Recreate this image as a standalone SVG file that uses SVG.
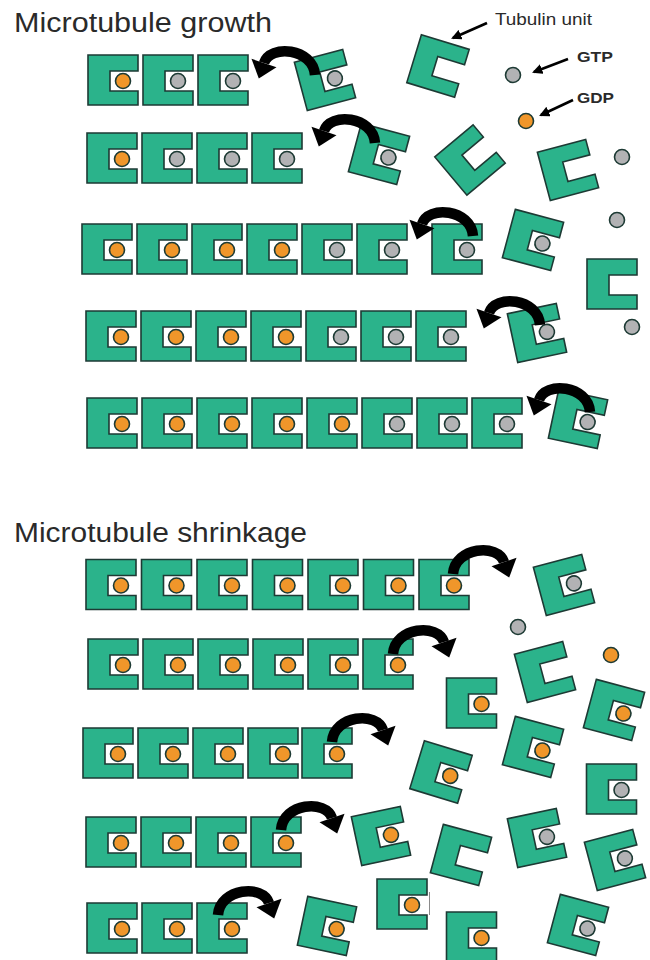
<svg xmlns="http://www.w3.org/2000/svg" xmlns:xlink="http://www.w3.org/1999/xlink" width="650" height="960" viewBox="0 0 650 960">
  <style>
    .unit { fill: #2bb38b; stroke: #1d3a34; stroke-width: 1.6; stroke-linejoin: miter; }
    .gtp { fill: #b2b2b4; stroke: #1d3a34; stroke-width: 1.6; }
    .gdp { fill: #f0962a; stroke: #1d3a34; stroke-width: 1.6; }
    .title { font-family: "Liberation Sans", Arial, sans-serif; font-size: 27px; fill: #2a2a2a; }
    .lbl { font-family: "Liberation Sans", Arial, sans-serif; fill: #2a2a2a; }
    .curl { fill: none; stroke: #000; stroke-width: 10.5; stroke-linecap: butt; }
    .ptr { stroke: #000; stroke-width: 2.6; fill: none; }
  </style>
  <defs>
    <!-- tubulin unit: C-shaped block, notch opening to the right, centred on origin -->
    <path id="c" class="unit" d="M -25 -25 H 25 V -9 H -3 V 11 H 25 V 25 H -25 Z"/>
    <g id="ug"><use xlink:href="#c"/><circle class="gtp" cx="10" cy="1" r="7.5"/></g>
    <g id="uo"><use xlink:href="#c"/><circle class="gdp" cx="10" cy="1" r="7.5"/></g>
    <!-- thick curled arrow, head pointing down-right -->
    <g id="curl">
      <path class="curl" d="M -31 12 C -29 -15 14 -19 20 0"/>
      <polygon points="32.5,-4.2 7.5,4.2 25.2,15.5" fill="#000"/>
    </g>
    <marker id="ah" viewBox="0 0 10 10" refX="8" refY="5" markerWidth="4" markerHeight="4" orient="auto" markerUnits="strokeWidth">
      <path d="M0 0 L10 5 L0 10 Z" fill="#000"/>
    </marker>
  </defs>

  <rect width="650" height="960" fill="#ffffff"/>

  <!-- titles and key labels -->
  <text class="title" x="14" y="32" textLength="258" lengthAdjust="spacingAndGlyphs">Microtubule growth</text>
  <text class="title" x="14" y="542" textLength="293" lengthAdjust="spacingAndGlyphs">Microtubule shrinkage</text>
  <text class="lbl" x="495" y="25" font-size="17" textLength="97" lengthAdjust="spacingAndGlyphs">Tubulin unit</text>
  <text class="lbl" x="577" y="62" font-size="15" font-weight="bold" textLength="36" lengthAdjust="spacingAndGlyphs">GTP</text>
  <text class="lbl" x="577" y="103" font-size="15" font-weight="bold" textLength="37" lengthAdjust="spacingAndGlyphs">GDP</text>

  <!-- ===== growth ===== -->
  <g id="growth-row1">
    <g id="g1a" transform="translate(113,80)"><use xlink:href="#uo"/></g>
    <g id="g1b" transform="translate(168,80)"><use xlink:href="#ug"/></g>
    <g id="g1c" transform="translate(223,80)"><use xlink:href="#ug"/></g>
  </g>
  <g id="growth-row2">
    <g id="g2a" transform="translate(112,158)"><use xlink:href="#uo"/></g>
    <g id="g2b" transform="translate(167,158)"><use xlink:href="#ug"/></g>
    <g id="g2c" transform="translate(222,158)"><use xlink:href="#ug"/></g>
    <g id="g2d" transform="translate(277,158)"><use xlink:href="#ug"/></g>
  </g>
  <g id="growth-row3">
    <g id="g3a" transform="translate(107,249)"><use xlink:href="#uo"/></g>
    <g id="g3b" transform="translate(162,249)"><use xlink:href="#uo"/></g>
    <g id="g3c" transform="translate(217,249)"><use xlink:href="#uo"/></g>
    <g id="g3d" transform="translate(272,249)"><use xlink:href="#uo"/></g>
    <g id="g3e" transform="translate(327,249)"><use xlink:href="#ug"/></g>
    <g id="g3f" transform="translate(382,249)"><use xlink:href="#ug"/></g>
    <g id="g3g" transform="translate(457,249)"><use xlink:href="#ug"/></g>
  </g>
  <g id="growth-row4">
    <g id="g4a" transform="translate(111,336)"><use xlink:href="#uo"/></g>
    <g id="g4b" transform="translate(166,336)"><use xlink:href="#uo"/></g>
    <g id="g4c" transform="translate(221,336)"><use xlink:href="#uo"/></g>
    <g id="g4d" transform="translate(276,336)"><use xlink:href="#uo"/></g>
    <g id="g4e" transform="translate(331,336)"><use xlink:href="#ug"/></g>
    <g id="g4f" transform="translate(386,336)"><use xlink:href="#ug"/></g>
    <g id="g4g" transform="translate(441,336)"><use xlink:href="#ug"/></g>
  </g>
  <g id="growth-row5">
    <g id="g5a" transform="translate(112,423)"><use xlink:href="#uo"/></g>
    <g id="g5b" transform="translate(167,423)"><use xlink:href="#uo"/></g>
    <g id="g5c" transform="translate(222,423)"><use xlink:href="#uo"/></g>
    <g id="g5d" transform="translate(277,423)"><use xlink:href="#uo"/></g>
    <g id="g5e" transform="translate(332,423)"><use xlink:href="#uo"/></g>
    <g id="g5f" transform="translate(387,423)"><use xlink:href="#ug"/></g>
    <g id="g5g" transform="translate(442,423)"><use xlink:href="#ug"/></g>
    <g id="g5h" transform="translate(497,423)"><use xlink:href="#ug"/></g>
  </g>

  <!-- free units and nucleotides (growth) -->
  <g id="free-growth">
    <g id="t1" transform="translate(325,80) rotate(-15)"><use xlink:href="#ug"/></g>
    <g id="t2" transform="translate(438,66) rotate(17)"><use xlink:href="#c"/></g>
    <g id="t3" transform="translate(379,154) rotate(15)"><use xlink:href="#ug"/></g>
    <g id="t4" transform="translate(470,160) rotate(-40)"><use xlink:href="#c"/></g>
    <g id="t5" transform="translate(568,170) rotate(-15)"><use xlink:href="#c"/></g>
    <g id="t6" transform="translate(533,240) rotate(15)"><use xlink:href="#ug"/></g>
    <g id="t7" transform="translate(537,333) rotate(-12)"><use xlink:href="#ug"/></g>
    <g id="t8" transform="translate(578,419) rotate(12)"><use xlink:href="#ug"/></g>
    <g id="t9" transform="translate(612,284)"><use xlink:href="#c"/></g>
    <circle id="n-gtp" class="gtp" cx="513" cy="75" r="7.5"/>
    <circle id="n-gdp" class="gdp" cx="526" cy="121" r="7.5"/>
    <circle id="n1" class="gtp" cx="622" cy="157" r="7.5"/>
    <circle id="n2" class="gtp" cx="617" cy="220" r="7.5"/>
    <circle id="n3" class="gtp" cx="632" cy="327" r="7.5"/>
  </g>

  <!-- ===== shrinkage ===== -->
  <g id="shrink-row1">
    <g id="s1a" transform="translate(111,584.5)"><use xlink:href="#uo"/></g>
    <g id="s1b" transform="translate(166.5,584.5)"><use xlink:href="#uo"/></g>
    <g id="s1c" transform="translate(222,584.5)"><use xlink:href="#uo"/></g>
    <g id="s1d" transform="translate(277.5,584.5)"><use xlink:href="#uo"/></g>
    <g id="s1e" transform="translate(333,584.5)"><use xlink:href="#uo"/></g>
    <g id="s1f" transform="translate(388.5,584.5)"><use xlink:href="#uo"/></g>
    <g id="s1g" transform="translate(444,584.5)"><use xlink:href="#uo"/></g>
  </g>
  <g id="shrink-row2">
    <g id="s2a" transform="translate(113,664)"><use xlink:href="#uo"/></g>
    <g id="s2b" transform="translate(168,664)"><use xlink:href="#uo"/></g>
    <g id="s2c" transform="translate(223,664)"><use xlink:href="#uo"/></g>
    <g id="s2d" transform="translate(278,664)"><use xlink:href="#uo"/></g>
    <g id="s2e" transform="translate(333,664)"><use xlink:href="#uo"/></g>
    <g id="s2f" transform="translate(388,664)"><use xlink:href="#uo"/></g>
  </g>
  <g id="shrink-row3">
    <g id="s3a" transform="translate(108,753)"><use xlink:href="#uo"/></g>
    <g id="s3b" transform="translate(163,753)"><use xlink:href="#uo"/></g>
    <g id="s3c" transform="translate(218,753)"><use xlink:href="#uo"/></g>
    <g id="s3d" transform="translate(273,753)"><use xlink:href="#uo"/></g>
    <g id="s3e" transform="translate(327,753)"><use xlink:href="#uo"/></g>
  </g>
  <g id="shrink-row4">
    <g id="s4a" transform="translate(111,842)"><use xlink:href="#uo"/></g>
    <g id="s4b" transform="translate(166,842)"><use xlink:href="#uo"/></g>
    <g id="s4c" transform="translate(221,842)"><use xlink:href="#uo"/></g>
    <g id="s4d" transform="translate(276,842)"><use xlink:href="#uo"/></g>
  </g>
  <g id="shrink-row5">
    <g id="s5a" transform="translate(112,928)"><use xlink:href="#uo"/></g>
    <g id="s5b" transform="translate(167,928)"><use xlink:href="#uo"/></g>
    <g id="s5c" transform="translate(222,928)"><use xlink:href="#uo"/></g>
  </g>

  <!-- released units and nucleotides (shrinkage) -->
  <g id="free-shrink">
    <g id="u1" transform="translate(564,585) rotate(-15)"><use xlink:href="#ug"/></g>
    <g id="u2" transform="translate(545,672) rotate(-15)"><use xlink:href="#c"/></g>
    <g id="u3" transform="translate(471.5,703)"><use xlink:href="#uo"/></g>
    <g id="u4" transform="translate(614,710) rotate(15)"><use xlink:href="#uo"/></g>
    <g id="u5" transform="translate(441,772) rotate(17)"><use xlink:href="#uo"/></g>
    <g id="u6" transform="translate(533,747) rotate(15)"><use xlink:href="#uo"/></g>
    <g id="u7" transform="translate(611.5,789)"><use xlink:href="#ug"/></g>
    <g id="u8" transform="translate(381,836) rotate(-12)"><use xlink:href="#uo"/></g>
    <g id="u9" transform="translate(461,855) rotate(15)"><use xlink:href="#c"/></g>
    <g id="u10" transform="translate(537,838) rotate(-12)"><use xlink:href="#ug"/></g>
    <g id="u11" transform="translate(615,860) rotate(-15)"><use xlink:href="#ug"/></g>
    <g id="u12" transform="translate(402,904)"><use xlink:href="#uo"/></g>
    <line x1="429.5" y1="892" x2="429.5" y2="915" stroke="#8a8a8a" stroke-width="1"/>
    <g id="u13" transform="translate(471.5,937)"><use xlink:href="#uo"/></g>
    <g id="u14" transform="translate(578,925) rotate(15)"><use xlink:href="#ug"/></g>
    <g id="u15" transform="translate(327,926) rotate(12)"><use xlink:href="#uo"/></g>
    <circle id="n4" class="gtp" cx="518" cy="627" r="7.5"/>
    <circle id="n5" class="gdp" cx="611" cy="655" r="7.5"/>
  </g>

  <!-- connectors: curled arrows and key pointers -->
  <g id="connectors">
    <use xlink:href="#curl" transform="translate(284,63) scale(-1,1)"/>
    <use xlink:href="#curl" transform="translate(344,131) scale(-1,1)"/>
    <use xlink:href="#curl" transform="translate(442,224) scale(-1,1)"/>
    <use xlink:href="#curl" transform="translate(509,313) scale(-1,1)"/>
    <use xlink:href="#curl" transform="translate(559,400) scale(-1,1)"/>
    <use xlink:href="#curl" transform="translate(484,562)"/>
    <use xlink:href="#curl" transform="translate(424,642)"/>
    <use xlink:href="#curl" transform="translate(363,730)"/>
    <use xlink:href="#curl" transform="translate(312,818)"/>
    <use xlink:href="#curl" transform="translate(249,903)"/>
    <line class="ptr" x1="487" y1="23" x2="453" y2="38" marker-end="url(#ah)"/>
    <line class="ptr" x1="568" y1="59" x2="534" y2="72" marker-end="url(#ah)"/>
    <line class="ptr" x1="573" y1="100" x2="541" y2="115" marker-end="url(#ah)"/>
  </g>
</svg>
